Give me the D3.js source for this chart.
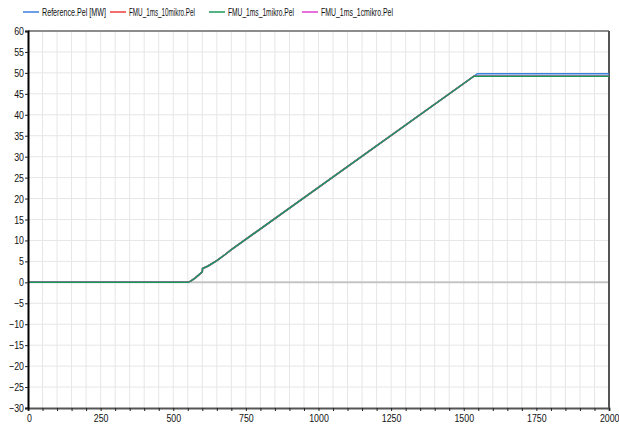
<!DOCTYPE html>
<html lang="en">
<head>
<meta charset="UTF-8">
<title>Pel</title>
<script src="https://cdn.jsdelivr.net/npm/d3@7"></script>
<style>
  body { margin: 0; background: #fff; }
  text { font-family: "Liberation Sans", Arial, sans-serif; }
</style>
</head>
<body>
<div id="chart"></div>
<script>
// data
const seriesNames = ["Reference.Pel [MW]", "FMU_1ms_10mikro.Pel", "FMU_1ms_1mikro.Pel", "FMU_1ms_1cmikro.Pel"];
const seriesColors = ["#3a7fe0", "#f03c3c", "#1a9a5a", "#e040d0"];

const refTime = [0, 550, 560, 575, 590, 600, 601, 620, 650, 680, 700, 1547, 2000];
const refPel  = [0, 0, 0.3, 1.0, 1.9, 2.5, 3.3, 3.9, 5.2, 6.7, 7.8, 49.8, 49.8];

const fmuTime = [0, 550, 560, 575, 590, 600, 601, 620, 650, 680, 700, 1535, 2000];
const fmu10Pel = [0, 0, 0.3, 1.0, 1.9, 2.5, 3.3, 3.9, 5.2, 6.7, 7.8, 49.2, 49.2];
const fmu1Pel  = [0, 0, 0.3, 1.0, 1.9, 2.5, 3.3, 3.9, 5.2, 6.7, 7.8, 49.2, 49.2];
const fmu1cPel = [0, 0, 0.3, 1.0, 1.9, 2.5, 3.3, 3.9, 5.2, 6.7, 7.8, 49.2, 49.2];

const xLabels = [0, 250, 500, 750, 1000, 1250, 1500, 1750, 2000];
const yLabels = [60, 55, 50, 45, 40, 35, 30, 25, 20, 15, 10, 5, 0, -5, -10, -15, -20, -25, -30];

const width = 619, height = 425;
const margin = { top: 31, right: 10, bottom: 17, left: 28 };

const svg = d3.select("#chart").append("svg").attr("width", width).attr("height", height);

const x = d3.scaleLinear().domain([0, 2000]).range([margin.left, width - margin.right]);
const y = d3.scaleLinear().domain([-30, 60]).range([height - margin.bottom, margin.top]);

// narrow font look: horizontal squeeze of text
const squeeze = 0.8;

// grid
svg.append("g").selectAll("line").data(d3.range(50, 2000, 50)).join("line")
  .attr("x1", d => x(d)).attr("x2", d => x(d))
  .attr("y1", y(60)).attr("y2", y(-30))
  .attr("stroke", "#e6e6e6").attr("stroke-width", 1);
svg.append("g").selectAll("line").data(yLabels.filter(v => v !== 0 && v !== -30 && v !== 60)).join("line")
  .attr("x1", x(0)).attr("x2", x(2000))
  .attr("y1", d => y(d)).attr("y2", d => y(d))
  .attr("stroke", "#e6e6e6").attr("stroke-width", 1);

// zero line
svg.append("line").attr("x1", x(0)).attr("x2", x(2000)).attr("y1", y(0)).attr("y2", y(0))
  .attr("stroke", "#c4c4c4").attr("stroke-width", 2);

// frame top / right
svg.append("line").attr("x1", x(0)).attr("x2", x(2000)).attr("y1", y(60)).attr("y2", y(60))
  .attr("stroke", "#666").attr("stroke-width", 1.5);
svg.append("line").attr("x1", x(2000)).attr("x2", x(2000)).attr("y1", y(60)).attr("y2", y(-30))
  .attr("stroke", "#555").attr("stroke-width", 2);

// series
const series = [
  { t: refTime, v: refPel, c: seriesColors[0] },
  { t: fmuTime, v: fmu10Pel, c: seriesColors[1] },
  { t: fmuTime, v: fmu1cPel, c: seriesColors[3] },
  { t: fmuTime, v: fmu1Pel, c: seriesColors[2] }
];
const line = d3.line().x(d => x(d[0])).y(d => y(d[1]));
series.forEach(s => {
  svg.append("path").datum(s.t.map((t, i) => [t, s.v[i]]))
    .attr("fill", "none").attr("stroke", s.c).attr("stroke-width", 1.5)
    .attr("d", line);
});

// axes
const xAxis = d3.axisBottom(x).tickValues(d3.range(0, 2001, 50)).tickSize(3)
  .tickFormat(d => xLabels.includes(d) ? d : "");
const gx = svg.append("g").attr("transform", `translate(0,${y(-30)})`).call(xAxis);
gx.select(".domain").attr("stroke", "#555").attr("stroke-width", 2);
gx.selectAll(".tick line").attr("stroke", "#222");
gx.selectAll("text").attr("font-size", 11).attr("fill", "#111")
  .attr("y", 4).attr("dy", "0.9em")
  .attr("transform", `scale(${squeeze},1)`);
gx.selectAll("text").filter(d => d === 2000).attr("text-anchor", "end").attr("x", 10 / squeeze);
gx.selectAll("text").filter(d => d === 0).attr("x", 1 / squeeze);

const yAxis = d3.axisLeft(y).tickValues(yLabels).tickSize(3);
const gy = svg.append("g").attr("transform", `translate(${x(0)},0)`).call(yAxis);
gy.select(".domain").attr("stroke", "#000").attr("stroke-width", 2);
gy.selectAll(".tick line").attr("stroke", "#222");
gy.selectAll("text").attr("font-size", 11).attr("fill", "#111")
  .attr("x", -4 / squeeze).attr("transform", `scale(${squeeze},1)`);

// legend
const legendX = [23, 110, 209, 302];
const legendW = [64, 66, 66, 72];
const legend = svg.append("g").selectAll("g").data(seriesNames).join("g")
  .attr("transform", (d, i) => `translate(${legendX[i]},12)`);
legend.append("line").attr("x1", 0).attr("x2", 16).attr("y1", 0).attr("y2", 0)
  .attr("stroke", (d, i) => seriesColors[i]).attr("stroke-width", 1.5);
legend.append("text").attr("font-size", 11).attr("fill", "#111").attr("y", 4)
  .text(d => d)
  .each(function (d, i) {
    const natural = this.getComputedTextLength();
    const s = legendW[i] / natural;
    d3.select(this).attr("transform", `translate(19,0) scale(${s},1)`);
  });
</script>
</body>
</html>
